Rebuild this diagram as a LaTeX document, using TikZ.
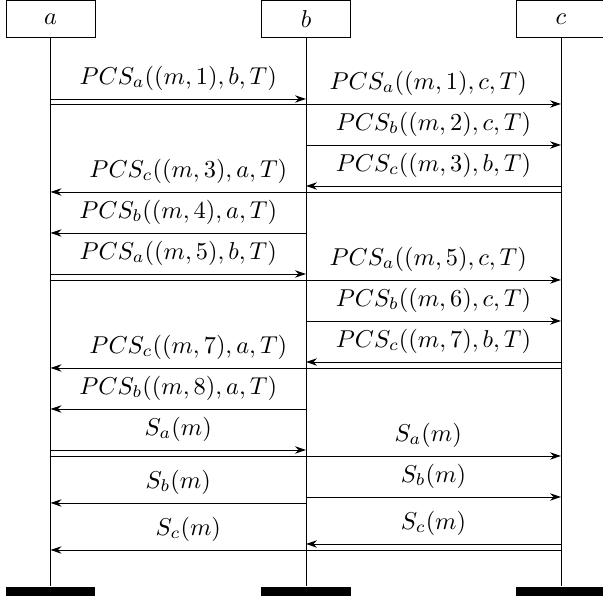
\documentclass[tikz,border=0pt]{standalone}
\usetikzlibrary{arrows.meta}
\begin{document}
\begin{tikzpicture}[x=0.41pt, y=-0.41pt,
        inst/.style={draw, minimum width=36.5pt, minimum height=14.8pt, inner sep=0pt},
        instend/.style={fill, minimum width=36.5pt, minimum height=3.7pt, inner sep=0pt},
        msg/.style={-{Stealth[length=4.5pt, width=3pt]}},
        lbl/.style={above}]
    \useasboundingbox (0,0) rectangle (603,599);
    \foreach \n/\x in {a/50.5, b/306, c/561} {
        \node[inst] (h\n) at (\x, 19) {$\n$};
        \node[instend] (e\n) at (\x, 591.5) {};
        \draw (h\n) -- (e\n);
        \foreach \y in {99,104,145,186,192,233,274,280,321,362,368,409,450,456,497,503,544,550}
            \coordinate (\n\y) at (\x, \y);
    }
    \draw[msg] (a99) -- node[lbl] {$PCS_a((m,1),b,T)$} (b99);
    \draw[msg] (a104) -- node[lbl, pos=0.74] {$PCS_a((m,1),c,T)$} (c104);
    \draw[msg] (b145) -- node[lbl] {$PCS_b((m,2),c,T)$} (c145);
    \draw[msg] (c186) -- node[lbl] {$PCS_c((m,3),b,T)$} (b186);
    \draw[msg] (c192) -- node[lbl, pos=0.73] {$PCS_c((m,3),a,T)$} (a192);
    \draw[msg] (b233) -- node[lbl] {$PCS_b((m,4),a,T)$} (a233);
    \draw[msg] (a274) -- node[lbl] {$PCS_a((m,5),b,T)$} (b274);
    \draw[msg] (a280) -- node[lbl, pos=0.74] {$PCS_a((m,5),c,T)$} (c280);
    \draw[msg] (b321) -- node[lbl] {$PCS_b((m,6),c,T)$} (c321);
    \draw[msg] (c362) -- node[lbl] {$PCS_c((m,7),b,T)$} (b362);
    \draw[msg] (c368) -- node[lbl, pos=0.73] {$PCS_c((m,7),a,T)$} (a368);
    \draw[msg] (b409) -- node[lbl] {$PCS_b((m,8),a,T)$} (a409);
    \draw[msg] (a450) -- node[lbl] {$S_a(m)$} (b450);
    \draw[msg] (a456) -- node[lbl, pos=0.74] {$S_a(m)$} (c456);
    \draw[msg] (b497) -- node[lbl] {$S_b(m)$} (c497);
    \draw[msg] (b503) -- node[lbl] {$S_b(m)$} (a503);
    \draw[msg] (c544) -- node[lbl] {$S_c(m)$} (b544);
    \draw[msg] (c550) -- node[lbl, pos=0.73] {$S_c(m)$} (a550);
\end{tikzpicture}
\end{document}
